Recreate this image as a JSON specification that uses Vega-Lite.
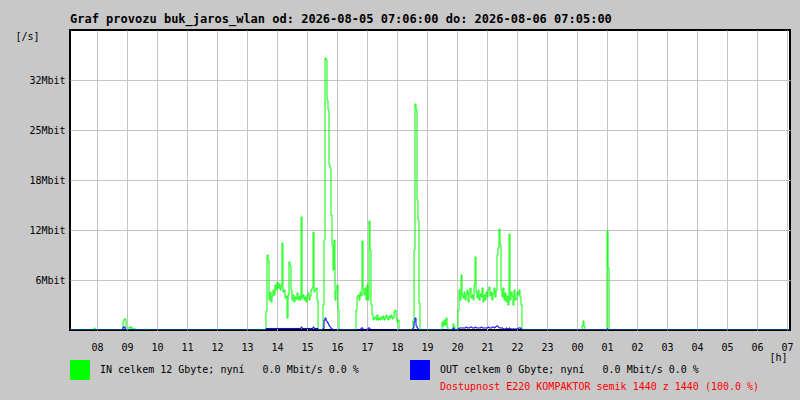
{
  "$schema": "https://vega.github.io/schema/vega-lite/v6.json",
  "width": 720,
  "height": 300,
  "autosize": "none",
  "padding": {"left": 70, "top": 30, "right": 10, "bottom": 70},
  "background": "#c8c8c8",
  "title": {
    "text": "Graf provozu buk_jaros_wlan od: 2026-08-05 07:06:00 do: 2026-08-06 07:05:00",
    "anchor": "start",
    "frame": "group",
    "font": "DejaVu Sans Mono",
    "fontSize": 12,
    "fontWeight": "bold",
    "color": "black",
    "offset": 4
  },
  "config": {
    "view": {"fill": "white", "stroke": "black", "strokeWidth": 2},
    "axis": {
      "labelFont": "DejaVu Sans Mono",
      "labelFontSize": 10,
      "labelColor": "black",
      "titleFont": "DejaVu Sans Mono",
      "titleFontSize": 10,
      "titleFontWeight": "normal",
      "titleColor": "black",
      "gridColor": "#c4c4c4",
      "gridWidth": 1,
      "gridOpacity": 1,
      "tickSize": 0,
      "domain": false
    }
  },
  "layer": [
    {
      "data": {
        "values": [
          {"t": "2026-08-05T07:06", "IN": 0, "OUT": 0},
          {"t": "2026-08-05T07:52", "IN": 0, "OUT": 0},
          {"t": "2026-08-05T07:54", "IN": 0.26, "OUT": 0},
          {"t": "2026-08-05T07:56", "IN": 0, "OUT": 0},
          {"t": "2026-08-05T08:50", "IN": 0, "OUT": 0},
          {"t": "2026-08-05T08:52", "IN": 1.02, "OUT": 0.38},
          {"t": "2026-08-05T08:54", "IN": 1.41, "OUT": 0.38},
          {"t": "2026-08-05T08:56", "IN": 1.41, "OUT": 0},
          {"t": "2026-08-05T08:58", "IN": 0, "OUT": 0},
          {"t": "2026-08-05T09:02", "IN": 0, "OUT": 0},
          {"t": "2026-08-05T09:04", "IN": 0.38, "OUT": 0},
          {"t": "2026-08-05T09:06", "IN": 0.26, "OUT": 0},
          {"t": "2026-08-05T09:08", "IN": 0.38, "OUT": 0},
          {"t": "2026-08-05T09:10", "IN": 0.13, "OUT": 0},
          {"t": "2026-08-05T09:16", "IN": 0.13, "OUT": 0},
          {"t": "2026-08-05T09:18", "IN": 0, "OUT": 0},
          {"t": "2026-08-05T09:36", "IN": 0.13, "OUT": 0},
          {"t": "2026-08-05T09:38", "IN": 0, "OUT": 0},
          {"t": "2026-08-05T13:22", "IN": 0.13, "OUT": 0},
          {"t": "2026-08-05T13:24", "IN": 0, "OUT": 0},
          {"t": "2026-08-05T13:36", "IN": 0, "OUT": 0},
          {"t": "2026-08-05T13:38", "IN": 2.43, "OUT": 0.2},
          {"t": "2026-08-05T13:40", "IN": 9.6, "OUT": 0.2},
          {"t": "2026-08-05T13:42", "IN": 8.96, "OUT": 0.2},
          {"t": "2026-08-05T13:44", "IN": 3.84, "OUT": 0.2},
          {"t": "2026-08-05T13:46", "IN": 4.86, "OUT": 0.2},
          {"t": "2026-08-05T13:48", "IN": 3.58, "OUT": 0.2},
          {"t": "2026-08-05T13:50", "IN": 4.35, "OUT": 0.2},
          {"t": "2026-08-05T13:52", "IN": 5.12, "OUT": 0.2},
          {"t": "2026-08-05T13:54", "IN": 4.48, "OUT": 0.2},
          {"t": "2026-08-05T13:56", "IN": 5.76, "OUT": 0.2},
          {"t": "2026-08-05T13:58", "IN": 5.12, "OUT": 0.2},
          {"t": "2026-08-05T14:00", "IN": 6.14, "OUT": 0.2},
          {"t": "2026-08-05T14:02", "IN": 5.38, "OUT": 0.2},
          {"t": "2026-08-05T14:04", "IN": 5.89, "OUT": 0.2},
          {"t": "2026-08-05T14:06", "IN": 5.12, "OUT": 0.2},
          {"t": "2026-08-05T14:08", "IN": 5.63, "OUT": 0.2},
          {"t": "2026-08-05T14:10", "IN": 11.14, "OUT": 0.2},
          {"t": "2026-08-05T14:12", "IN": 4.86, "OUT": 0.2},
          {"t": "2026-08-05T14:14", "IN": 5.12, "OUT": 0.2},
          {"t": "2026-08-05T14:16", "IN": 4.1, "OUT": 0.2},
          {"t": "2026-08-05T14:18", "IN": 4.35, "OUT": 0.2},
          {"t": "2026-08-05T14:20", "IN": 1.54, "OUT": 0.2},
          {"t": "2026-08-05T14:22", "IN": 4.48, "OUT": 0.2},
          {"t": "2026-08-05T14:24", "IN": 8.7, "OUT": 0.2},
          {"t": "2026-08-05T14:26", "IN": 8.19, "OUT": 0.2},
          {"t": "2026-08-05T14:28", "IN": 5.12, "OUT": 0.2},
          {"t": "2026-08-05T14:30", "IN": 3.84, "OUT": 0.2},
          {"t": "2026-08-05T14:32", "IN": 4.48, "OUT": 0.2},
          {"t": "2026-08-05T14:34", "IN": 3.58, "OUT": 0.2},
          {"t": "2026-08-05T14:36", "IN": 4.22, "OUT": 0.2},
          {"t": "2026-08-05T14:38", "IN": 3.97, "OUT": 0.2},
          {"t": "2026-08-05T14:40", "IN": 4.74, "OUT": 0.2},
          {"t": "2026-08-05T14:42", "IN": 3.84, "OUT": 0.2},
          {"t": "2026-08-05T14:44", "IN": 4.35, "OUT": 0.2},
          {"t": "2026-08-05T14:46", "IN": 3.84, "OUT": 0.2},
          {"t": "2026-08-05T14:48", "IN": 14.46, "OUT": 0.38},
          {"t": "2026-08-05T14:50", "IN": 4.1, "OUT": 0.2},
          {"t": "2026-08-05T14:52", "IN": 4.48, "OUT": 0.2},
          {"t": "2026-08-05T14:54", "IN": 3.84, "OUT": 0.2},
          {"t": "2026-08-05T14:56", "IN": 4.22, "OUT": 0.2},
          {"t": "2026-08-05T14:58", "IN": 3.58, "OUT": 0.2},
          {"t": "2026-08-05T15:00", "IN": 4.48, "OUT": 0.2},
          {"t": "2026-08-05T15:02", "IN": 4.74, "OUT": 0.2},
          {"t": "2026-08-05T15:04", "IN": 3.84, "OUT": 0.2},
          {"t": "2026-08-05T15:06", "IN": 4.35, "OUT": 0.2},
          {"t": "2026-08-05T15:08", "IN": 5.12, "OUT": 0.2},
          {"t": "2026-08-05T15:10", "IN": 5.38, "OUT": 0.2},
          {"t": "2026-08-05T15:12", "IN": 12.54, "OUT": 0.38},
          {"t": "2026-08-05T15:14", "IN": 4.86, "OUT": 0.2},
          {"t": "2026-08-05T15:16", "IN": 5.12, "OUT": 0.2},
          {"t": "2026-08-05T15:18", "IN": 5.38, "OUT": 0.2},
          {"t": "2026-08-05T15:20", "IN": 3.84, "OUT": 0.2},
          {"t": "2026-08-05T15:22", "IN": 0, "OUT": 0},
          {"t": "2026-08-05T15:30", "IN": 0, "OUT": 0},
          {"t": "2026-08-05T15:32", "IN": 3.2, "OUT": 0.2},
          {"t": "2026-08-05T15:34", "IN": 11.52, "OUT": 1.28},
          {"t": "2026-08-05T15:36", "IN": 34.82, "OUT": 1.54},
          {"t": "2026-08-05T15:38", "IN": 34.56, "OUT": 1.15},
          {"t": "2026-08-05T15:40", "IN": 29.44, "OUT": 1.02},
          {"t": "2026-08-05T15:42", "IN": 28.16, "OUT": 0.77},
          {"t": "2026-08-05T15:44", "IN": 21.1, "OUT": 0.51},
          {"t": "2026-08-05T15:46", "IN": 20.74, "OUT": 0.38},
          {"t": "2026-08-05T15:48", "IN": 14.72, "OUT": 0.13},
          {"t": "2026-08-05T15:50", "IN": 10.88, "OUT": 0.13},
          {"t": "2026-08-05T15:52", "IN": 7.68, "OUT": 0},
          {"t": "2026-08-05T15:54", "IN": 11.52, "OUT": 0},
          {"t": "2026-08-05T15:56", "IN": 3.84, "OUT": 0},
          {"t": "2026-08-05T15:58", "IN": 5.12, "OUT": 0},
          {"t": "2026-08-05T16:00", "IN": 5.76, "OUT": 0},
          {"t": "2026-08-05T16:02", "IN": 2.56, "OUT": 0},
          {"t": "2026-08-05T16:04", "IN": 0, "OUT": 0},
          {"t": "2026-08-05T16:36", "IN": 0, "OUT": 0},
          {"t": "2026-08-05T16:38", "IN": 2.56, "OUT": 0},
          {"t": "2026-08-05T16:40", "IN": 4.22, "OUT": 0},
          {"t": "2026-08-05T16:42", "IN": 4.48, "OUT": 0},
          {"t": "2026-08-05T16:44", "IN": 3.84, "OUT": 0},
          {"t": "2026-08-05T16:46", "IN": 4.86, "OUT": 0},
          {"t": "2026-08-05T16:48", "IN": 4.35, "OUT": 0.26},
          {"t": "2026-08-05T16:50", "IN": 11.39, "OUT": 0.26},
          {"t": "2026-08-05T16:52", "IN": 5.12, "OUT": 0},
          {"t": "2026-08-05T16:54", "IN": 4.48, "OUT": 0},
          {"t": "2026-08-05T16:56", "IN": 5.38, "OUT": 0},
          {"t": "2026-08-05T16:58", "IN": 3.84, "OUT": 0},
          {"t": "2026-08-05T17:00", "IN": 5.76, "OUT": 0},
          {"t": "2026-08-05T17:02", "IN": 3.84, "OUT": 0.26},
          {"t": "2026-08-05T17:04", "IN": 13.95, "OUT": 0.26},
          {"t": "2026-08-05T17:06", "IN": 10.24, "OUT": 0},
          {"t": "2026-08-05T17:08", "IN": 3.2, "OUT": 0},
          {"t": "2026-08-05T17:10", "IN": 1.92, "OUT": 0},
          {"t": "2026-08-05T17:12", "IN": 1.28, "OUT": 0},
          {"t": "2026-08-05T17:14", "IN": 1.54, "OUT": 0},
          {"t": "2026-08-05T17:16", "IN": 1.66, "OUT": 0},
          {"t": "2026-08-05T17:18", "IN": 1.28, "OUT": 0},
          {"t": "2026-08-05T17:20", "IN": 1.92, "OUT": 0},
          {"t": "2026-08-05T17:22", "IN": 1.28, "OUT": 0},
          {"t": "2026-08-05T17:24", "IN": 1.54, "OUT": 0},
          {"t": "2026-08-05T17:26", "IN": 1.28, "OUT": 0},
          {"t": "2026-08-05T17:28", "IN": 1.66, "OUT": 0},
          {"t": "2026-08-05T17:30", "IN": 1.41, "OUT": 0},
          {"t": "2026-08-05T17:32", "IN": 1.79, "OUT": 0},
          {"t": "2026-08-05T17:34", "IN": 1.28, "OUT": 0},
          {"t": "2026-08-05T17:36", "IN": 1.54, "OUT": 0},
          {"t": "2026-08-05T17:38", "IN": 1.92, "OUT": 0},
          {"t": "2026-08-05T17:40", "IN": 1.54, "OUT": 0},
          {"t": "2026-08-05T17:42", "IN": 1.28, "OUT": 0},
          {"t": "2026-08-05T17:44", "IN": 1.79, "OUT": 0},
          {"t": "2026-08-05T17:46", "IN": 1.54, "OUT": 0},
          {"t": "2026-08-05T17:48", "IN": 1.92, "OUT": 0},
          {"t": "2026-08-05T17:50", "IN": 1.41, "OUT": 0},
          {"t": "2026-08-05T17:52", "IN": 1.54, "OUT": 0},
          {"t": "2026-08-05T17:54", "IN": 2.3, "OUT": 0},
          {"t": "2026-08-05T17:56", "IN": 2.56, "OUT": 0},
          {"t": "2026-08-05T17:58", "IN": 1.54, "OUT": 0},
          {"t": "2026-08-05T18:00", "IN": 1.02, "OUT": 0},
          {"t": "2026-08-05T18:02", "IN": 1.28, "OUT": 0},
          {"t": "2026-08-05T18:04", "IN": 0, "OUT": 0},
          {"t": "2026-08-05T18:30", "IN": 0, "OUT": 0},
          {"t": "2026-08-05T18:32", "IN": 1.28, "OUT": 0.26},
          {"t": "2026-08-05T18:34", "IN": 10.24, "OUT": 1.02},
          {"t": "2026-08-05T18:36", "IN": 28.93, "OUT": 1.54},
          {"t": "2026-08-05T18:38", "IN": 28.16, "OUT": 0.51},
          {"t": "2026-08-05T18:40", "IN": 16.64, "OUT": 0.26},
          {"t": "2026-08-05T18:42", "IN": 14.08, "OUT": 0},
          {"t": "2026-08-05T18:44", "IN": 3.46, "OUT": 0},
          {"t": "2026-08-05T18:46", "IN": 0, "OUT": 0},
          {"t": "2026-08-05T19:26", "IN": 0, "OUT": 0},
          {"t": "2026-08-05T19:30", "IN": 1.02, "OUT": 0},
          {"t": "2026-08-05T19:32", "IN": 0.51, "OUT": 0},
          {"t": "2026-08-05T19:34", "IN": 1.28, "OUT": 0},
          {"t": "2026-08-05T19:36", "IN": 0.64, "OUT": 0},
          {"t": "2026-08-05T19:38", "IN": 1.54, "OUT": 0},
          {"t": "2026-08-05T19:40", "IN": 0.38, "OUT": 0},
          {"t": "2026-08-05T19:42", "IN": 0, "OUT": 0},
          {"t": "2026-08-05T19:50", "IN": 0, "OUT": 0},
          {"t": "2026-08-05T19:52", "IN": 0.77, "OUT": 0.26},
          {"t": "2026-08-05T19:54", "IN": 0.38, "OUT": 0},
          {"t": "2026-08-05T19:56", "IN": 0, "OUT": 0},
          {"t": "2026-08-05T20:00", "IN": 0, "OUT": 0},
          {"t": "2026-08-05T20:02", "IN": 2.56, "OUT": 0.13},
          {"t": "2026-08-05T20:04", "IN": 5.12, "OUT": 0.26},
          {"t": "2026-08-05T20:06", "IN": 3.84, "OUT": 0.26},
          {"t": "2026-08-05T20:08", "IN": 7.04, "OUT": 0.26},
          {"t": "2026-08-05T20:10", "IN": 4.48, "OUT": 0.26},
          {"t": "2026-08-05T20:12", "IN": 4.1, "OUT": 0.26},
          {"t": "2026-08-05T20:14", "IN": 4.86, "OUT": 0.26},
          {"t": "2026-08-05T20:16", "IN": 3.84, "OUT": 0.26},
          {"t": "2026-08-05T20:18", "IN": 4.48, "OUT": 0.38},
          {"t": "2026-08-05T20:20", "IN": 5.12, "OUT": 0.26},
          {"t": "2026-08-05T20:22", "IN": 3.58, "OUT": 0.26},
          {"t": "2026-08-05T20:24", "IN": 4.74, "OUT": 0.26},
          {"t": "2026-08-05T20:26", "IN": 5.38, "OUT": 0.38},
          {"t": "2026-08-05T20:28", "IN": 4.1, "OUT": 0.38},
          {"t": "2026-08-05T20:30", "IN": 4.48, "OUT": 0.26},
          {"t": "2026-08-05T20:32", "IN": 3.84, "OUT": 0.26},
          {"t": "2026-08-05T20:34", "IN": 5.76, "OUT": 0.26},
          {"t": "2026-08-05T20:36", "IN": 9.34, "OUT": 0.38},
          {"t": "2026-08-05T20:38", "IN": 4.74, "OUT": 0.26},
          {"t": "2026-08-05T20:40", "IN": 4.1, "OUT": 0.26},
          {"t": "2026-08-05T20:42", "IN": 5.12, "OUT": 0.26},
          {"t": "2026-08-05T20:44", "IN": 3.84, "OUT": 0.26},
          {"t": "2026-08-05T20:46", "IN": 4.61, "OUT": 0.26},
          {"t": "2026-08-05T20:48", "IN": 4.22, "OUT": 0.38},
          {"t": "2026-08-05T20:50", "IN": 5.38, "OUT": 0.26},
          {"t": "2026-08-05T20:52", "IN": 3.58, "OUT": 0.26},
          {"t": "2026-08-05T20:54", "IN": 4.48, "OUT": 0.26},
          {"t": "2026-08-05T20:56", "IN": 3.84, "OUT": 0.26},
          {"t": "2026-08-05T20:58", "IN": 4.86, "OUT": 0.26},
          {"t": "2026-08-05T21:00", "IN": 4.22, "OUT": 0.26},
          {"t": "2026-08-05T21:02", "IN": 5.12, "OUT": 0.38},
          {"t": "2026-08-05T21:04", "IN": 5.5, "OUT": 0.26},
          {"t": "2026-08-05T21:06", "IN": 4.35, "OUT": 0.26},
          {"t": "2026-08-05T21:08", "IN": 4.86, "OUT": 0.26},
          {"t": "2026-08-05T21:10", "IN": 3.84, "OUT": 0.38},
          {"t": "2026-08-05T21:12", "IN": 4.61, "OUT": 0.38},
          {"t": "2026-08-05T21:14", "IN": 5.38, "OUT": 0.26},
          {"t": "2026-08-05T21:16", "IN": 4.22, "OUT": 0.38},
          {"t": "2026-08-05T21:18", "IN": 5.12, "OUT": 0.51},
          {"t": "2026-08-05T21:20", "IN": 9.6, "OUT": 0.51},
          {"t": "2026-08-05T21:22", "IN": 10.5, "OUT": 0.38},
          {"t": "2026-08-05T21:24", "IN": 12.93, "OUT": 0.26},
          {"t": "2026-08-05T21:26", "IN": 10.88, "OUT": 0.26},
          {"t": "2026-08-05T21:28", "IN": 5.12, "OUT": 0.26},
          {"t": "2026-08-05T21:30", "IN": 4.22, "OUT": 0.26},
          {"t": "2026-08-05T21:32", "IN": 5.38, "OUT": 0.13},
          {"t": "2026-08-05T21:34", "IN": 3.84, "OUT": 0.13},
          {"t": "2026-08-05T21:36", "IN": 4.74, "OUT": 0.13},
          {"t": "2026-08-05T21:38", "IN": 3.58, "OUT": 0.26},
          {"t": "2026-08-05T21:40", "IN": 4.35, "OUT": 0.13},
          {"t": "2026-08-05T21:42", "IN": 3.2, "OUT": 0.13},
          {"t": "2026-08-05T21:44", "IN": 12.29, "OUT": 0.26},
          {"t": "2026-08-05T21:46", "IN": 3.84, "OUT": 0.13},
          {"t": "2026-08-05T21:48", "IN": 4.86, "OUT": 0.13},
          {"t": "2026-08-05T21:50", "IN": 4.35, "OUT": 0.13},
          {"t": "2026-08-05T21:52", "IN": 3.2, "OUT": 0.13},
          {"t": "2026-08-05T21:54", "IN": 5.12, "OUT": 0.13},
          {"t": "2026-08-05T21:56", "IN": 3.84, "OUT": 0.13},
          {"t": "2026-08-05T21:58", "IN": 4.1, "OUT": 0.13},
          {"t": "2026-08-05T22:00", "IN": 4.86, "OUT": 0.13},
          {"t": "2026-08-05T22:02", "IN": 4.48, "OUT": 0.26},
          {"t": "2026-08-05T22:04", "IN": 5.12, "OUT": 0.26},
          {"t": "2026-08-05T22:06", "IN": 4.22, "OUT": 0.26},
          {"t": "2026-08-05T22:08", "IN": 3.2, "OUT": 0.13},
          {"t": "2026-08-05T22:10", "IN": 0, "OUT": 0},
          {"t": "2026-08-06T00:08", "IN": 0, "OUT": 0},
          {"t": "2026-08-06T00:10", "IN": 0.51, "OUT": 0},
          {"t": "2026-08-06T00:12", "IN": 1.15, "OUT": 0},
          {"t": "2026-08-06T00:14", "IN": 0.38, "OUT": 0},
          {"t": "2026-08-06T00:16", "IN": 0, "OUT": 0},
          {"t": "2026-08-06T00:58", "IN": 0, "OUT": 0},
          {"t": "2026-08-06T01:00", "IN": 12.67, "OUT": 0.13},
          {"t": "2026-08-06T01:02", "IN": 7.94, "OUT": 0},
          {"t": "2026-08-06T01:04", "IN": 0, "OUT": 0},
          {"t": "2026-08-06T07:06", "IN": 0, "OUT": 0}
        ]
      },
      "transform": [{"fold": ["IN", "OUT"], "as": ["series", "v"]}],
      "mark": {"type": "line", "interpolate": "step-after", "strokeWidth": 1, "clip": true},
      "encoding": {
        "x": {
          "field": "t",
          "type": "temporal",
          "title": "[h]",
          "scale": {
            "domain": [
              {"year": 2026, "month": 8, "date": 5, "hours": 7, "minutes": 6},
              {"year": 2026, "month": 8, "date": 6, "hours": 7, "minutes": 6}
            ]
          },
          "axis": {
            "title": "[h]",
            "format": "%H",
            "tickCount": 24,
            "labelAngle": 0,
            "labelPadding": 12,
            "titleAnchor": "end",
            "titleAlign": "right",
            "titleX": 717,
            "titleY": 22
          }
        },
        "y": {
          "field": "v",
          "type": "quantitative",
          "title": "[/s]",
          "scale": {"domain": [0, 38.4], "nice": false},
          "axis": {
            "title": "[/s]",
            "values": [6.4, 12.8, 19.2, 25.6, 32],
            "labelExpr": "datum.value < 10 ? '6Mbit' : datum.value < 15 ? '12Mbit' : datum.value < 20 ? '18Mbit' : datum.value < 30 ? '25Mbit' : '32Mbit'",
            "labelPadding": 5,
            "titleAngle": 0,
            "titleAlign": "left",
            "titleBaseline": "middle",
            "titleX": -55,
            "titleY": 6
          }
        },
        "color": {
          "field": "series",
          "type": "nominal",
          "scale": {"domain": ["IN", "OUT"], "range": ["#00ff00", "#0000ff"]},
          "legend": {
            "title": null,
            "orient": "none",
            "legendX": 0,
            "legendY": 330,
            "direction": "horizontal",
            "columns": 2,
            "columnPadding": 33,
            "symbolType": "square",
            "symbolSize": 64,
            "symbolStrokeWidth": 12,
            "labelFont": "DejaVu Sans Mono",
            "labelFontSize": 10,
            "labelColor": "black",
            "labelOffset": 10,
            "labelLimit": 500,
            "labelExpr": "datum.value == 'IN' ? 'IN celkem 12 Gbyte; nyní\u00a0\u00a0\u00a00.0 Mbit/s 0.0 %' : 'OUT celkem 0 Gbyte; nyní\u00a0\u00a0\u00a00.0 Mbit/s 0.0 %'"
          }
        }
      }
    },
    {
      "data": {"values": [{"note": "Dostupnost E220 KOMPAKTOR semik 1440 z 1440 (100.0 %)"}]},
      "mark": {
        "type": "text",
        "align": "left",
        "baseline": "middle",
        "color": "#ff0000",
        "font": "DejaVu Sans Mono",
        "fontSize": 10,
        "clip": false
      },
      "encoding": {
        "x": {"datum": {"year": 2026, "month": 8, "date": 5, "hours": 19, "minutes": 26}, "type": "temporal", "title": "[h]"},
        "y": {"datum": -7.3, "type": "quantitative", "title": "[/s]"},
        "text": {"field": "note", "type": "nominal"}
      }
    }
  ]
}
